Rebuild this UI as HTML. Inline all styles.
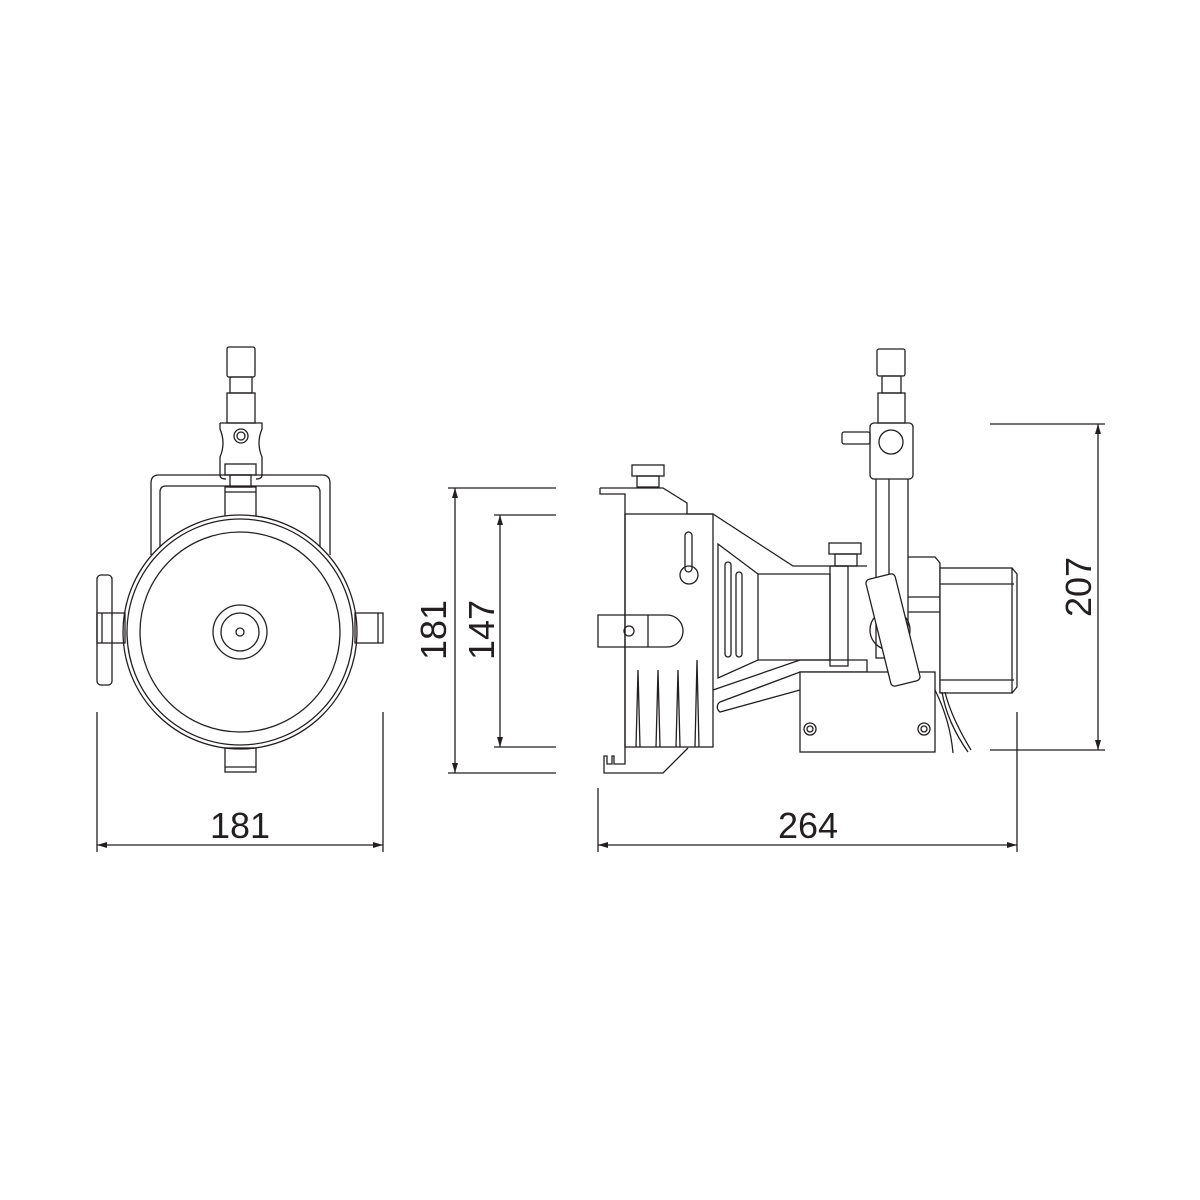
<!DOCTYPE html>
<html><head><meta charset="utf-8"><style>
html,body{margin:0;padding:0;background:#fff;width:1200px;height:1200px;overflow:hidden}
svg{display:block}
text{font-family:"Liberation Sans",sans-serif;font-size:36px;fill:#231f20}
</style></head><body>
<svg width="1200" height="1200" viewBox="0 0 1200 1200" xmlns="http://www.w3.org/2000/svg">
<defs>
<marker id="a" viewBox="0 0 10 6" refX="10" refY="3" markerWidth="10" markerHeight="6" orient="auto-start-reverse" markerUnits="userSpaceOnUse"><path d="M0,0 L10,3 L0,6 z" fill="#231f20"/></marker>
</defs>
<g fill="none" stroke="#231f20" stroke-width="1.3">
<!-- FRONT VIEW -->
<path d="M151,555 V483 q0,-8 8,-8 H322 q8,0 8,8 V555"/>
<path d="M160,555 V492 q0,-6 6,-6 H314 q6,0 6,6 V555"/>
<rect x="225" y="487" width="31" height="30"/>
<line x1="225" y1="492" x2="256" y2="492"/>
<rect x="230" y="475" width="21" height="12"/>
<rect x="225" y="464" width="31" height="11"/>
<path d="M220,423 H262 v6 q-6,14 0,28 v18 q0,4 -6,4 M220,423 v6 q6,14 0,28 v18 q0,4 6,4"/>
<circle cx="241" cy="436" r="7"/><circle cx="241" cy="436" r="4"/>
<rect x="227" y="393" width="28" height="30"/>
<rect x="230" y="377" width="22" height="16"/>
<rect x="227" y="347" width="28" height="30" rx="2"/>
<circle cx="240" cy="632" r="117" fill="#fff"/>
<circle cx="240" cy="632" r="113"/>
<circle cx="240" cy="632" r="100"/>
<circle cx="240" cy="632" r="27"/>
<circle cx="240" cy="632" r="19"/>
<circle cx="240" cy="632" r="4"/>
<rect x="97" y="575" width="15" height="110" rx="4"/>
<rect x="97" y="613" width="28" height="30"/>
<line x1="102" y1="613" x2="102" y2="643"/>
<rect x="355" y="613" width="28" height="30"/>
<line x1="378" y1="613" x2="378" y2="643"/>
<rect x="225" y="748" width="31" height="24"/>
<line x1="225" y1="767" x2="256" y2="767"/>

<!-- SIDE VIEW -->
<path d="M600,488 H663 L687,503 V514"/>
<path d="M600,488 v6 h25 V764 h-11 v-8 h-2 v8 h-5 v-8 h-3 v17 H663 L688,748"/>
<rect x="625" y="514" width="88" height="233"/>
<rect x="632" y="465" width="32" height="11"/>
<rect x="637" y="476" width="22" height="11"/>
<path d="M687,514 h26 M713,514 L793,566 H867"/>
<rect x="685" y="532" width="7" height="40" rx="3.5"/>
<circle cx="689" cy="575" r="9"/>
<path d="M598,615 H667 a16,16 0 0 1 0,32 H598 z M648,615 V647"/>
<circle cx="629" cy="631" r="5"/>
<path d="M636,747 L638,670 L640,747 M656,747 L658,670 L660,747 M676,747 L678,670 L680,747 M695,747 L697,660 L699,747"/>
<path d="M718,544 L758,574 H830 V660 H758 L718,678 z"/>
<path d="M758,574 V660"/>
<rect x="725" y="562" width="6" height="95" rx="3"/>
<rect x="736" y="572" width="6" height="85" rx="3"/>
<rect x="830" y="566" width="18" height="100"/>
<rect x="829" y="543" width="32" height="11"/>
<rect x="835" y="554" width="22" height="12"/>
<path d="M713,690 L800,660 H867 V672 H800 L720,702 a6,6 0 0 0 0,10 L800,690"/>
<rect x="800" y="672" width="135" height="80" fill="#fff"/>
<circle cx="810" cy="729" r="6"/><circle cx="810" cy="729" r="3"/>
<circle cx="924" cy="729" r="6"/><circle cx="924" cy="729" r="3"/>
<rect x="876" y="478" width="32" height="180"/>
<line x1="889" y1="477" x2="889" y2="600"/>
<rect x="870" y="423" width="43" height="56" rx="4" fill="#fff"/>
<circle cx="891" cy="442" r="12"/>
<rect x="842" y="432" width="28" height="12" rx="2"/>
<rect x="878" y="393" width="27" height="30"/>
<rect x="882" y="376" width="19" height="17"/>
<rect x="877" y="349" width="28" height="27" rx="2"/>
<path d="M908,557 H935 L940,563 V693 M908,597 H940 M908,612 H940"/>
<circle cx="890" cy="630" r="20"/>
<rect x="878" y="575" width="30" height="110" rx="4" fill="#fff" transform="rotate(-14 893 630)"/>
<rect x="940" y="568" width="72" height="125" fill="#fff"/>
<path d="M1012,568 l5,6 v113 l-5,6 M940,584 H1014 M940,680 H1014"/>
<path d="M935,690 q15,30 18,63 M942,692 q5,30 26,60 M945,692 q6,25 26,58"/>

<!-- DIMENSIONS -->
<line x1="97" y1="712" x2="97" y2="852"/>
<line x1="383" y1="712" x2="383" y2="852"/>
<line x1="97" y1="845" x2="383" y2="845" marker-start="url(#a)" marker-end="url(#a)"/>
<line x1="448" y1="488" x2="556" y2="488"/>
<line x1="448" y1="773" x2="556" y2="773"/>
<line x1="494" y1="515" x2="556" y2="515"/>
<line x1="494" y1="747" x2="556" y2="747"/>
<line x1="455" y1="488" x2="455" y2="773" marker-start="url(#a)" marker-end="url(#a)"/>
<line x1="500" y1="515" x2="500" y2="747" marker-start="url(#a)" marker-end="url(#a)"/>
<line x1="990" y1="424" x2="1105" y2="424"/>
<line x1="990" y1="750" x2="1105" y2="750"/>
<line x1="1098" y1="424" x2="1098" y2="750" marker-start="url(#a)" marker-end="url(#a)"/>
<line x1="598" y1="788" x2="598" y2="852"/>
<line x1="1017" y1="712" x2="1017" y2="852"/>
<line x1="598" y1="845" x2="1017" y2="845" marker-start="url(#a)" marker-end="url(#a)"/>
</g>
<text x="240" y="838" text-anchor="middle">181</text>
<text x="808" y="838" text-anchor="middle">264</text>
<text transform="translate(446,630) rotate(-90)" text-anchor="middle">181</text>
<text transform="translate(494,630) rotate(-90)" text-anchor="middle">147</text>
<text transform="translate(1091,587) rotate(-90)" text-anchor="middle">207</text>
</svg>
</body></html>
